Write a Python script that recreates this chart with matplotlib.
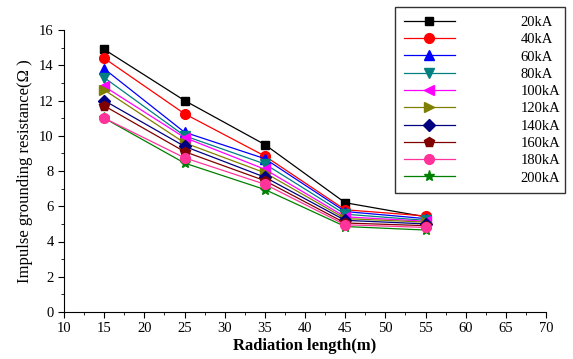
import matplotlib
matplotlib.use("Agg")
import matplotlib.pyplot as plt
from matplotlib.ticker import MultipleLocator

plt.rcParams['font.family'] = ['Liberation Serif', 'DejaVu Serif']

x = [15, 25, 35, 45, 55]
labels = ['20kA', '40kA', '60kA', '80kA', '100kA', '120kA', '140kA', '160kA', '180kA', '200kA']
r20 = [14.9, 12.0, 9.5, 6.2, 5.4]
r40 = [14.4, 11.25, 8.85, 5.8, 5.45]
r60 = [13.8, 10.2, 8.7, 5.7, 5.3]
r80 = [13.3, 10.0, 8.4, 5.55, 5.2]
r100 = [12.8, 9.9, 8.1, 5.4, 5.15]
r120 = [12.6, 9.6, 7.9, 5.3, 5.1]
r140 = [12.0, 9.4, 7.65, 5.2, 5.0]
r160 = [11.7, 9.1, 7.45, 5.05, 4.9]
r180 = [11.0, 8.75, 7.25, 4.95, 4.8]
r200 = [11.0, 8.45, 6.95, 4.85, 4.65]
series = [r20, r40, r60, r80, r100, r120, r140, r160, r180, r200]
colors = ['black', 'red', 'blue', '#008080', 'magenta', '#808000', '#000080', '#800000', '#FF3399', 'green']
markers = ['s', 'o', '^', 'v', '<', '>', 'D', 'p', 'o', '*']
msizes = [6, 7, 7, 7, 7, 7, 6, 7, 7, 8]
zorders = [2, 2, 2, 2, 2, 2, 2, 2, 2.2, 2.1]

fig = plt.figure(figsize=(5.73, 3.59), dpi=100)
ax = fig.add_axes([64/573, 1-312/359, (546-64)/573, (312-30)/359])

for ys, c, m, ms, z, lab in zip(series, colors, markers, msizes, zorders, labels):
    ax.plot(x, ys, color=c, marker=m, markersize=ms, linewidth=0.9, label=lab, zorder=z)

ax.set_xlim(10, 70)
ax.set_ylim(0, 16)
ax.xaxis.set_major_locator(MultipleLocator(5))
ax.xaxis.set_minor_locator(MultipleLocator(2.5))
ax.yaxis.set_major_locator(MultipleLocator(2))
ax.yaxis.set_minor_locator(MultipleLocator(1))
ax.spines['top'].set_visible(False)
ax.spines['right'].set_visible(False)
ax.tick_params(axis='both', which='major', direction='out', length=4, labelsize=10.5)
ax.tick_params(axis='both', which='minor', direction='out', length=2)
ax.set_xlabel('Radiation length(m)', fontsize=12, fontweight='bold', labelpad=2)
ax.set_ylabel('Impulse grounding resistance(Ω )', fontsize=12, labelpad=4)

handles, labs = ax.get_legend_handles_labels()
leg = fig.legend(handles, labs, loc='upper left',
                 bbox_to_anchor=(395/573, 1-185/359, (565-395)/573, (185-7)/359),
                 mode='expand', fontsize=10.5, frameon=True, fancybox=False, edgecolor='black',
                 handlelength=3.5, handletextpad=4.5, borderaxespad=0, labelspacing=0.28,
                 borderpad=0.6)
leg.get_frame().set_linewidth(1.0)

fig.savefig('out.png', dpi=100)
